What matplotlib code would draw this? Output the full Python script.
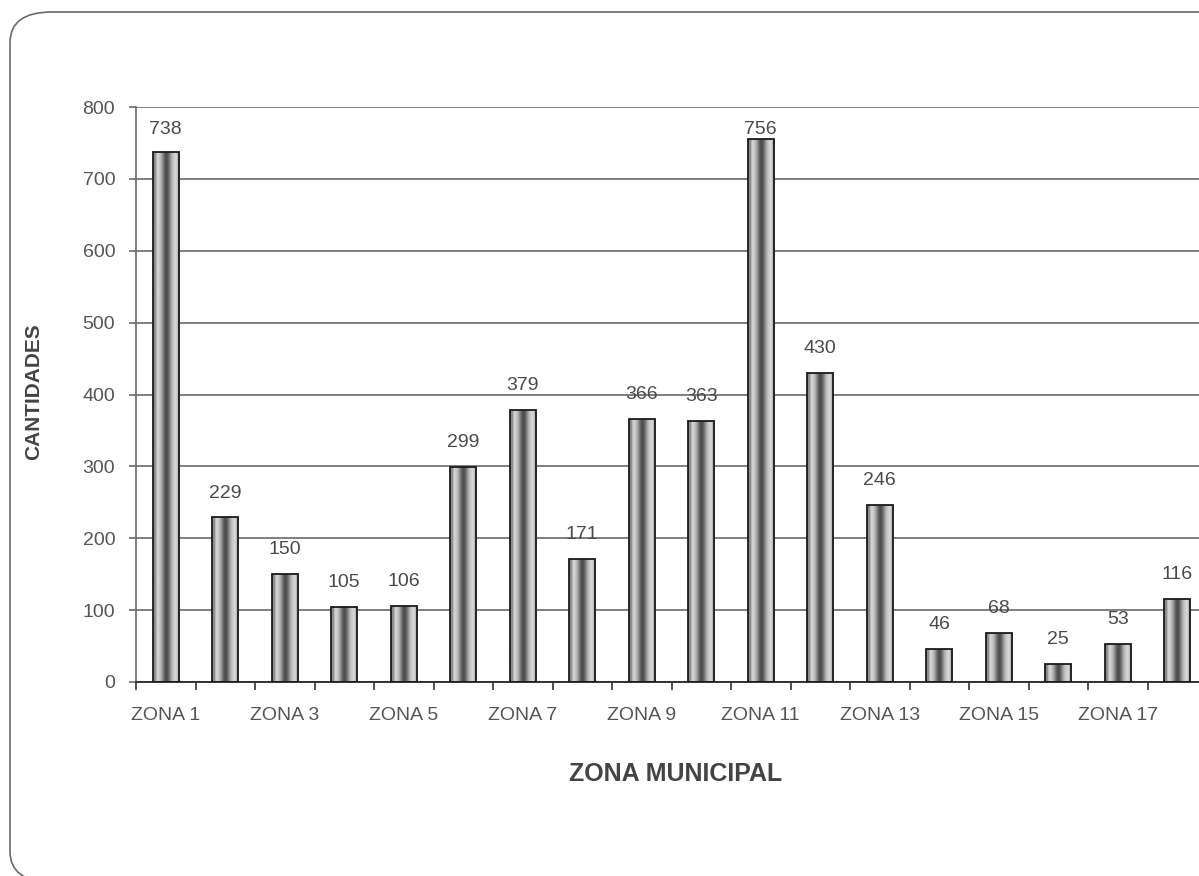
import numpy as np
import matplotlib
matplotlib.use("Agg")
import matplotlib.pyplot as plt
from matplotlib.patches import FancyBboxPatch

plt.rcParams["font.family"] = ["Liberation Sans", "DejaVu Sans"]

# ---Data---
zonas = [f"ZONA {i}" for i in range(1, 19)]
cantidades = [738, 229, 150, 105, 106, 299, 379, 171, 366, 363,
              756, 430, 246, 46, 68, 25, 53, 116]
yticks = [0, 100, 200, 300, 400, 500, 600, 700, 800]

W, H = 1199, 876
fig = plt.figure(figsize=(W / 100, H / 100), dpi=100)
fig.patch.set_facecolor("white")

# rounded chart frame (runs off the right and bottom edges)
frame = FancyBboxPatch((10 / W, -6 / H), 1.2, (H - 6) / H,
                       boxstyle="round,pad=0,rounding_size=0.035",
                       transform=fig.transFigure, fill=False,
                       edgecolor="#6a6a6a", lw=1.2, clip_on=False)
fig.patches.append(frame)

ax = fig.add_axes([136 / W, 1 - 682 / H, (1207 - 136) / W, (682 - 107) / H])
ax.set_facecolor("white")

x = np.arange(len(zonas))
bw = 0.44
bars = ax.bar(x, cantidades, width=bw, color="none", edgecolor="#1a1a1a",
              linewidth=1.3, zorder=3)

# cylinder shading inside each bar
t = np.linspace(0, 1, 64)
shade = 0.85 - 0.55 * np.exp(-((t - 0.5) / 0.18) ** 2)
shade[t < 0.12] = 0.55
shade[t > 0.9] = 0.7
grad = shade[np.newaxis, :]
for b in bars:
    x0, w, h = b.get_x(), b.get_width(), b.get_height()
    im = ax.imshow(grad, extent=(x0, x0 + w, 0, h), aspect="auto",
                   cmap="gray", vmin=0, vmax=1, zorder=2,
                   interpolation="bicubic")
    im.set_clip_path(b)

for xi, v in zip(x, cantidades):
    ax.text(xi, min(v + 22, 757), str(v), ha="center", va="bottom",
            fontsize=14, color="#4a4a4a", zorder=4)

ax.set_xlim(-0.5, len(zonas) - 0.5)
ax.set_ylim(0, 800)
ax.set_yticks(yticks)
ax.set_yticklabels([str(v) for v in yticks], fontsize=14, color="#555555")
ax.yaxis.grid(True, color="#6a6a6a", linewidth=1.2, zorder=1)
ax.set_axisbelow(True)

ax.set_xticks(np.arange(-0.5, len(zonas), 1))
ax.set_xticklabels([])
ax.set_xticks(x[::2], minor=True)
ax.set_xticklabels(zonas[::2], minor=True, fontsize=14, color="#555555")
ax.tick_params(axis="x", which="major", length=6, color="#333333", width=1.2)
ax.tick_params(axis="x", which="minor", length=0, pad=18)
ax.tick_params(axis="y", length=5, color="#6a6a6a", width=1.2, pad=10)

for s in ["top", "right"]:
    ax.spines[s].set_visible(False)
ax.spines["left"].set_color("#6a6a6a")
ax.spines["left"].set_linewidth(1.2)
ax.spines["bottom"].set_color("#333333")
ax.spines["bottom"].set_linewidth(1.4)

fig.text(34 / W, 1 - 392 / H, "CANTIDADES", rotation=90, ha="center",
         va="center", fontsize=15, fontweight="bold", color="#444444")
fig.text(676 / W, 1 - 774 / H, "ZONA MUNICIPAL", ha="center", va="center",
         fontsize=18, fontweight="bold", color="#444444")

fig.savefig("out.png", dpi=100)
